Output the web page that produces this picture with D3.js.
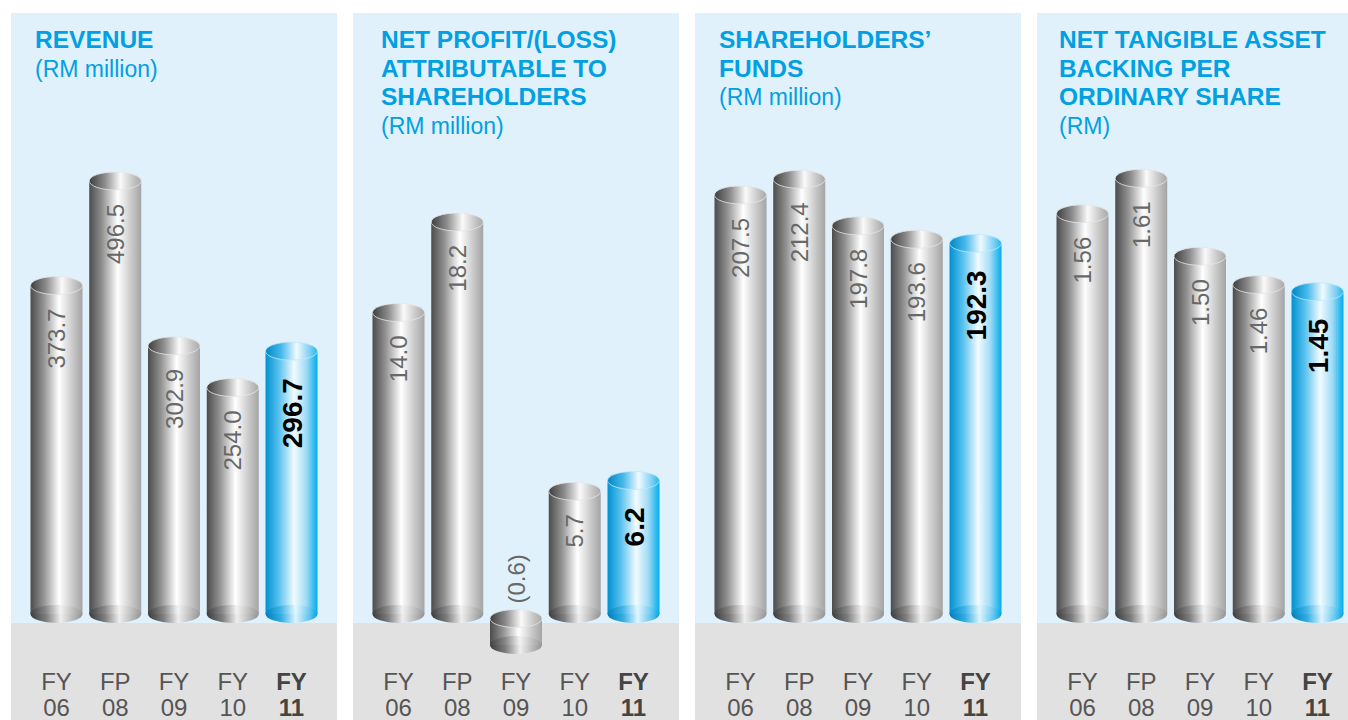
<!DOCTYPE html>
<html>
<head>
<meta charset="utf-8">
<script src="https://cdn.jsdelivr.net/npm/d3@7"></script>
<style>
  html, body { margin: 0; padding: 0; background: #fff; }
  svg { display: block; font-family: "Liberation Sans", Arial, Helvetica, sans-serif; }
</style>
</head>
<body>
<svg id="chart"></svg>
<script>
// five years, four key figures
const periodTop = ['FY', 'FP', 'FY', 'FY', 'FY'];
const periodYear = ['06', '08', '09', '10', '11'];

const revenue = [373.7, 496.5, 302.9, 254.0, 296.7];
const netProfit = [14.0, 18.2, -0.6, 5.7, 6.2];
const shareholdersFunds = [207.5, 212.4, 197.8, 193.6, 192.3];
const ntaPerShare = [1.56, 1.61, 1.50, 1.46, 1.45];

const titles = [
  ['REVENUE'],
  ['NET PROFIT/(LOSS)', 'ATTRIBUTABLE TO', 'SHAREHOLDERS'],
  ['SHAREHOLDERS\u2019', 'FUNDS'],
  ['NET TANGIBLE ASSET', 'BACKING PER', 'ORDINARY SHARE']
];
const units = ['(RM million)', '(RM million)', '(RM million)', '(RM)'];

const width = 1348;
const height = 720;
const panelW = 326;
const panelTop = 13;
const groundY = 623;   // where the grey strip starts
const baseY = 614;     // centre of the bottom ellipse
const rx = 26, ry = 9;

const fmt1 = d3.format('.1f');
const fmt2 = d3.format('.2f');
const fmtParen = f => v => v < 0 ? `(${f(-v)})` : f(v);

const panels = [
  { values: revenue, domain: [-12, 500], span: 436, fmt: fmtParen(fmt1), titleX: 24 },
  { values: netProfit, domain: [0, 18.2], span: 392, fmt: fmtParen(fmt1), titleX: 28 },
  { values: shareholdersFunds, domain: [76, 215], span: 443, fmt: fmtParen(fmt1), titleX: 24 },
  { values: ntaPerShare, domain: [0.995, 1.65], span: 464, fmt: fmtParen(fmt2), titleX: 22 }
];

const svg = d3.select('#chart')
  .attr('width', width)
  .attr('height', height)
  .attr('viewBox', `0 0 ${width} ${height}`);

// gradients for the cylinders
const defs = svg.append('defs');
function grad(id, stops) {
  const g = defs.append('linearGradient').attr('id', id)
    .attr('x1', '0%').attr('x2', '100%').attr('y1', '0%').attr('y2', '0%');
  stops.forEach(([o, c]) => g.append('stop').attr('offset', o).attr('stop-color', c));
}
grad('greyBody', [[0, '#4c4c4c'], [0.25, '#929292'], [0.55, '#ffffff'], [0.78, '#cfcfcf'], [1, '#a4a4a4']]);
grad('greyCap', [[0, '#3e3e3e'], [0.3, '#8c8c8c'], [0.6, '#fafafa'], [0.85, '#c4c4c4'], [1, '#a8a8a8']]);
grad('greyBase', [[0, '#3c3c3c'], [0.3, '#7e7e7e'], [0.58, '#eeeeee'], [0.85, '#b2b2b2'], [1, '#939393']]);
grad('blueBody', [[0, '#0091d0'], [0.25, '#55c0ee'], [0.55, '#f2fbff'], [0.78, '#a3dcf6'], [1, '#00adec']]);
grad('blueCap', [[0, '#0087c6'], [0.3, '#45b8ea'], [0.6, '#f0faff'], [0.85, '#7fd0f3'], [1, '#22b6ee']]);
grad('blueBase', [[0, '#007fbe'], [0.3, '#33ade2'], [0.58, '#def4fd'], [0.85, '#5fc4ef'], [1, '#00a4e4']]);

const x = d3.scalePoint()
  .domain(d3.range(5))
  .range([45.5, 280.5]);

panels.forEach((p, i) => {
  const left = 11 + i * 342;
  const g = svg.append('g').attr('transform', `translate(${left},0)`);

  g.append('rect')
    .attr('x', 0).attr('y', panelTop)
    .attr('width', panelW).attr('height', groundY - panelTop)
    .attr('fill', '#e0f1fb');
  g.append('rect')
    .attr('x', 0).attr('y', groundY)
    .attr('width', panelW).attr('height', height - groundY)
    .attr('fill', '#e1e1e1');

  // title
  const t = g.append('text')
    .attr('x', p.titleX)
    .attr('y', 48)
    .attr('fill', '#00a0e3');
  titles[i].forEach((line, k) => {
    t.append('tspan')
      .attr('x', p.titleX).attr('dy', k === 0 ? 0 : 28.5)
      .attr('font-weight', 'bold')
      .attr('font-size', 24.5)
      .text(line);
  });
  t.append('tspan')
    .attr('x', p.titleX).attr('dy', 28.5)
    .attr('font-size', 23)
    .text(units[i]);

  const y = d3.scaleLinear()
    .domain(p.domain)
    .range([baseY, baseY - p.span]);

  p.values.forEach((v, j) => {
    const cx = x(j);
    const last = j === p.values.length - 1;
    const kind = last ? 'blue' : 'grey';
    let top, bottom;
    if (v >= 0) {
      top = y(v);
      bottom = baseY;
    } else {
      // loss year sits just under the ground line
      top = baseY + 4.5;
      bottom = top + Math.max(26.5, y(v) - y(0));
    }
    const bar = g.append('g');
    bar.append('rect')
      .attr('x', cx - rx).attr('y', top)
      .attr('width', rx * 2).attr('height', bottom - top)
      .attr('fill', `url(#${kind}Body)`);
    bar.append('ellipse')
      .attr('cx', cx).attr('cy', bottom)
      .attr('rx', rx).attr('ry', ry)
      .attr('fill', `url(#${kind}Base)`);
    // faint body over the back half of the base, so the rim reads through
    bar.append('path')
      .attr('d', `M${cx - rx},${bottom} A${rx},${ry} 0 0 1 ${cx + rx},${bottom} Z`)
      .attr('fill', `url(#${kind}Body)`)
      .attr('opacity', 0.3);
    bar.append('ellipse')
      .attr('cx', cx).attr('cy', top)
      .attr('rx', rx).attr('ry', ry)
      .attr('fill', `url(#${kind}Cap)`)
      .attr('stroke', last ? '#bfe9fb' : '#e6e6e6')
      .attr('stroke-width', 0.8);

    // value label, rotated
    const label = p.fmt(v);
    if (v >= 0) {
      bar.append('text')
        .attr('transform', `translate(${cx},${top + (last ? 27 : 23)}) rotate(-90)`)
        .attr('text-anchor', 'end')
        .attr('dy', '0.36em')
        .attr('font-size', last ? 28 : 24)
        .attr('font-weight', last ? 'bold' : 'normal')
        .attr('fill', last ? '#000' : '#686868')
        .text(label);
    } else {
      bar.append('text')
        .attr('transform', `translate(${cx},${top - 15}) rotate(-90)`)
        .attr('text-anchor', 'start')
        .attr('dy', '0.36em')
        .attr('font-size', 24)
        .attr('fill', '#686868')
        .text(label);
    }

    // period label
    const pl = g.append('text')
      .attr('text-anchor', 'middle')
      .attr('font-size', 24)
      .attr('font-weight', last ? 'bold' : 'normal')
      .attr('fill', last ? '#444' : '#555');
    pl.append('tspan').attr('x', cx).attr('y', 690).text(periodTop[j]);
    pl.append('tspan').attr('x', cx).attr('y', 716).text(periodYear[j]);
  });
});
</script>
</body>
</html>
